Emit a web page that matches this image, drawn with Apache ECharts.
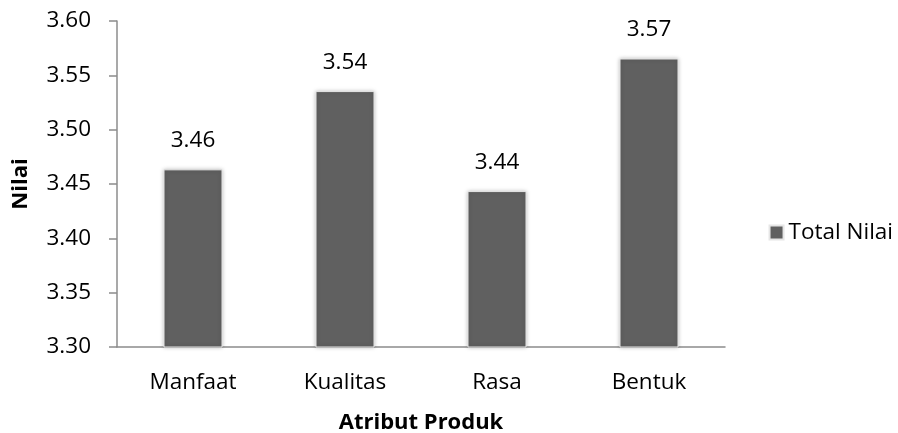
<!DOCTYPE html>
<html>
<head>
<meta charset="utf-8">
<script src="https://cdn.jsdelivr.net/npm/echarts@6/dist/echarts.min.js"></script>
<style>html,body{margin:0;padding:0;background:#fff}#c{width:898px;height:433px}</style>
</head>
<body>
<div id="c"></div>
<script>
var categories = ['Manfaat', 'Kualitas', 'Rasa', 'Bentuk'];
var totalNilai = [3.4635, 3.5355, 3.4435, 3.5655];
var seriesName = 'Total Nilai';
var yTicks = { min: 3.30, max: 3.60, interval: 0.05 };

var FONT = 'Open Sans';
var chart = echarts.init(document.getElementById('c'));
chart.setOption({
  animation: false,
  textStyle: { fontFamily: FONT },
  grid: { left: 117, right: 173, top: 21, bottom: 86, containLabel: false, outerBoundsMode: 'none' },
  legend: {
    right: 0, top: 216,
    itemWidth: 14, itemHeight: 14, itemGap: 6,
    textStyle: { fontSize: 22.5, color: '#000', fontFamily: FONT },
    data: [{ name: seriesName, icon: 'rect' }]
  },
  xAxis: {
    type: 'category',
    data: categories,
    name: 'Atribut Produk',
    nameLocation: 'middle',
    nameGap: 65,
    nameTextStyle: { fontSize: 22, fontWeight: 'bold', color: '#000', fontFamily: FONT },
    axisLine: { lineStyle: { color: '#8c8c8c', width: 1.5 } },
    axisTick: { show: false },
    axisLabel: { fontSize: 22.5, color: '#000', margin: 24, fontFamily: FONT }
  },
  yAxis: {
    type: 'value',
    min: yTicks.min, max: yTicks.max, interval: yTicks.interval,
    name: 'Nilai',
    nameLocation: 'middle',
    nameGap: 85,
    nameRotate: 90,
    nameTextStyle: { fontSize: 22, fontWeight: 'bold', color: '#000', fontFamily: FONT },
    axisLine: { show: true, lineStyle: { color: '#8c8c8c', width: 1.5 } },
    axisTick: { show: true, length: 8, lineStyle: { color: '#8c8c8c', width: 1.5 } },
    splitLine: { show: false },
    axisLabel: {
      fontSize: 22.5, color: '#000', margin: 26, fontFamily: FONT,
      formatter: function (v) { return v.toFixed(2); }
    }
  },
  series: [{
    name: seriesName,
    type: 'bar',
    data: totalNilai,
    barWidth: 59,
    itemStyle: {
      color: '#606060',
      borderColor: '#e6e6e6', borderWidth: 1,
      shadowColor: 'rgba(0,0,0,0.25)', shadowBlur: 4
    },
    label: {
      show: true, position: 'top', distance: 17,
      fontSize: 22.5, color: '#000', fontFamily: FONT,
      formatter: function (p) { return p.value.toFixed(2); }
    }
  }]
});
</script>
</body>
</html>
